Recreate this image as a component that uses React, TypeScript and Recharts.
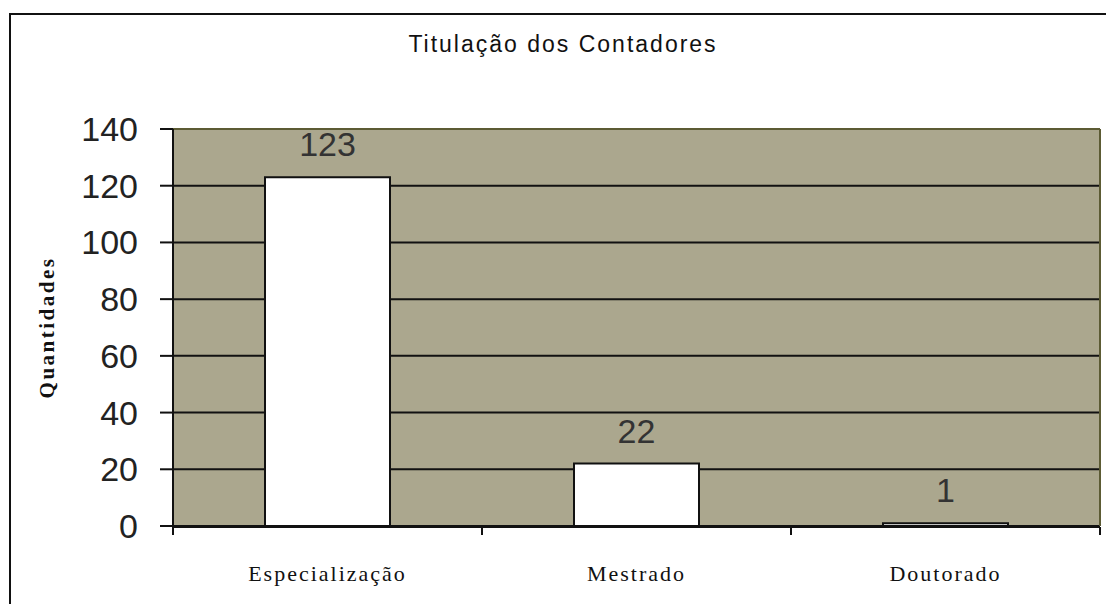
import {
  BarChart, Bar, XAxis, YAxis, CartesianGrid, LabelList, ReferenceLine,
} from 'recharts';

const categories = ['Especialização', 'Mestrado', 'Doutorado'];
const quantidades = [123, 22, 1];
const yTicks = [0, 20, 40, 60, 80, 100, 120, 140];
const edgeTicks = [0, 1, 2, 3];

const data = categories.map((c, i) => ({ titulacao: c, quantidade: quantidades[i], pos: i + 0.5 }));

const sans = '"Liberation Sans", Arial, sans-serif';
const serif = '"Liberation Serif", "Times New Roman", serif';

export default function App() {
  return (
    <div style={{ position: 'absolute', left: 0, top: 0, width: 1106, height: 604, background: '#fff', overflow: 'hidden' }}>
      {/* outer frame: only top and left edges fall inside the picture */}
      <div style={{ position: 'absolute', left: 9, top: 13, width: 1200, height: 700, border: '2px solid #111' }} />
      <div style={{
        position: 'absolute', left: 0, width: 1126, top: 31, textAlign: 'center',
        fontFamily: sans, fontSize: 23, letterSpacing: 2, color: '#111',
      }}>
        Titulação dos Contadores
      </div>
      <BarChart
        width={1106}
        height={604}
        data={data}
        margin={{ top: 129, right: 6, bottom: 76, left: 8 }}
        style={{ position: 'absolute', left: 0, top: 0 }}
      >
        <CartesianGrid vertical={false} fill="#aba78e" stroke="#111" strokeWidth={2} fillOpacity={1} />
        {/* both x axes are 1px tall so they sit on the plot's bottom edge */}
        <XAxis
          dataKey="titulacao"
          height={1}
          axisLine={false}
          tickLine={false}
          tickSize={0}
          tickMargin={39}
          tick={{ fill: '#111', fontSize: 22, fontFamily: serif, letterSpacing: 2 }}
        />
        <XAxis
          xAxisId="edges"
          type="number"
          dataKey="pos"
          domain={[0, 3]}
          ticks={edgeTicks}
          height={1}
          tickSize={8}
          tickFormatter={() => ''}
          axisLine={{ stroke: '#111', strokeWidth: 2 }}
          tickLine={{ stroke: '#111', strokeWidth: 2 }}
        />
        <YAxis
          width={165}
          domain={[0, 140]}
          ticks={yTicks}
          interval={0}
          tickSize={13}
          tickMargin={22}
          axisLine={{ stroke: '#111', strokeWidth: 2 }}
          tickLine={{ stroke: '#111', strokeWidth: 2 }}
          tick={{ fill: '#222', fontSize: 34, fontFamily: sans }}
          label={{
            value: 'Quantidades',
            content: ({ viewBox }: any) => {
              const x = viewBox.x + 39;
              const y = viewBox.y + viewBox.height / 2;
              return (
                <text
                  x={x}
                  y={y}
                  transform={`rotate(-90, ${x}, ${y})`}
                  textAnchor="middle"
                  dominantBaseline="central"
                  fontFamily={serif}
                  fontWeight="bold"
                  fontSize={21}
                  letterSpacing={2.5}
                  fill="#111"
                >
                  Quantidades
                </text>
              );
            },
          }}
        />
        <ReferenceLine y={140} stroke="#5c5b34" strokeWidth={2} />
        <ReferenceLine xAxisId="edges" x={3} stroke="#5c5b34" strokeWidth={2} />
        <Bar dataKey="quantidade" fill="#ffffff" stroke="#111" strokeWidth={2} barSize={125} isAnimationActive={false}>
          <LabelList dataKey="quantidade" position="top" offset={21} fill="#333" fontSize={34} fontFamily={sans} />
        </Bar>
      </BarChart>
    </div>
  );
}
